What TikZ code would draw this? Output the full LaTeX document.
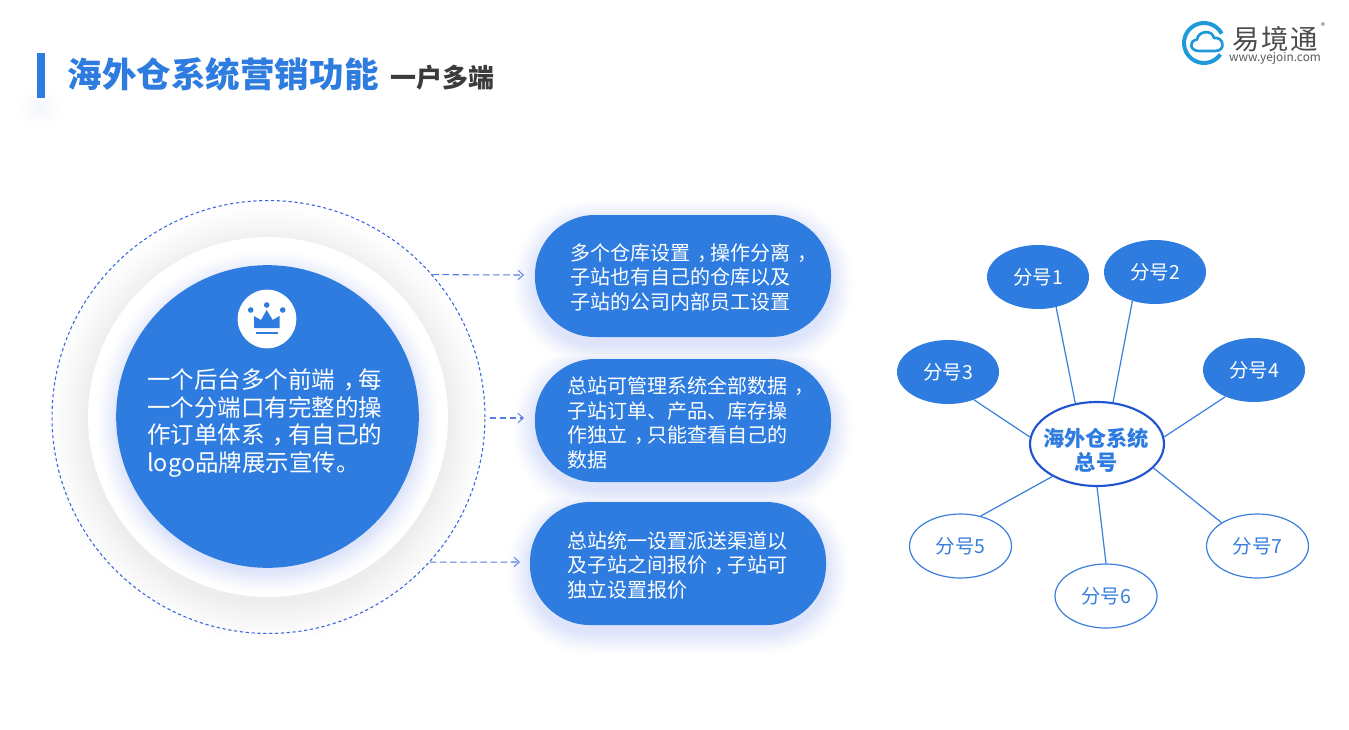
\documentclass[tikz,border=0pt]{standalone}
\usepackage{fontspec}
\setmainfont{Noto Sans CJK SC}
\usetikzlibrary{shapes.geometric,arrows.meta}
\definecolor{mainblue}{HTML}{2E7CDF}
\definecolor{linkblue}{HTML}{3A7FDC}
\definecolor{dashblue}{HTML}{3A66DD}
\definecolor{hubblue}{HTML}{1F55D0}
\definecolor{darktxt}{HTML}{3B3B3B}
\definecolor{logoblue}{HTML}{1E9AD8}
\definecolor{haloblue}{HTML}{DCE3F9}
\definecolor{haloalt}{HTML}{F4F6FD}
\definecolor{halogray}{HTML}{ECECEC}
\newcommand{\pxfont}[2]{\fontsize{#1}{#2}\selectfont}
\newcommand{\cm}{\kern0.35em，\kern-0.35em}
\tikzset{
  x=0.75pt,y=-0.75pt,
  pillbox/.style={fill=mainblue,rounded corners=45pt,minimum width=222pt,inner sep=0pt},
  pilltext/.style={anchor=west,align=left,text=white,inner sep=0pt,font=\pxfont{15}{18.35}},
  sat/.style={ellipse,minimum width=76.5pt,minimum height=48pt,inner sep=0pt,font=\pxfont{14.6}{18}},
  satfull/.style={sat,fill=mainblue,text=white},
  satopen/.style={sat,draw=linkblue,line width=0.9pt,fill=white,text=linkblue},
  spoke/.style={draw=linkblue,line width=0.9pt},
  dasharrow/.style={draw=dashblue!85!white,line width=0.8pt,dash pattern=on 5pt off 2.6pt,-{Straight Barb[length=4pt,width=7pt,line width=0.7pt]}},
}
\begin{document}
\begin{tikzpicture}
\useasboundingbox (0,0) rectangle (1349,729);
\fill[white] (0,0) rectangle (1349,729);
% title glow and bar
\foreach \k in {20,19,...,1}{
  \pgfmathsetmacro{\p}{100*(1-\k/20)^1.5}
  \fill[haloalt!\p!white] (40,108) circle[radius={(\k*1.3)*0.75pt}];}
\fill[mainblue] (37,53) rectangle (45,98);
\node[anchor=west,inner sep=0pt,text=mainblue,font=\pxfont{25.9}{30}\bfseries] (title) at (67.5,74) {海外仓系统营销功能};
\node[anchor=west,inner sep=0pt,text=darktxt,font=\pxfont{19.5}{24}\bfseries] (subtitle) at (390,78) {一户多端};
% logo
\draw[logoblue,line width=3pt] (1204,43) ++(-28:20) arc[start angle=28,end angle=325,radius=15pt];
\draw[logoblue,line width=2pt,line join=round] (1199,51) .. controls (1190,51) and (1188,41) .. (1197,39.5)
  .. controls (1198,31) and (1212,29) .. (1214,38) .. controls (1223,36) and (1227,51) .. (1215,51) -- cycle;
\node[inner sep=0pt,text=black!70,font=\pxfont{20.5}{24}] (logocn) at (1275,39) {易\kern1pt 境\kern1pt 通};
\node[inner sep=0pt,text=black!65,font=\pxfont{8.9}{10}] (logourl) at (1275,58) {www.yejoin.com};
\node[inner sep=0pt,text=black!60,font=\pxfont{6.5}{8}] (logoreg) at (1323,26) {®};
% left circles: grey halo under the white disc
\foreach \k in {44,43,...,1}{
  \pgfmathsetmacro{\p}{100*(1-\k/44)^1.3}
  \fill[halogray!\p!white] (268,423) circle[radius={(178+\k)*0.75pt}];}
\node[circle,draw=dashblue,line width=0.8pt,dash pattern=on 2.4pt off 2pt,minimum size=324.7pt,inner sep=0pt] (ring) at (268.5,417) {};
\node[circle,fill=white,minimum size=270pt,inner sep=0pt] (disc) at (268,417) {};
\foreach \k in {24,23,...,1}{
  \pgfmathsetmacro{\p}{100*(1-\k/24)^1.3}
  \fill[haloblue!\p!white] (268,422) circle[radius={(149+\k)*0.75pt}];}
\node[circle,fill=mainblue,minimum size=227pt,inner sep=0pt] (core) at (267.5,416.5) {};
\node[circle,fill=white,minimum size=44pt,inner sep=0pt] (badge) at (267,319) {};
\fill[mainblue] (254,316) -- (261,320) -- (266.7,310) -- (272.7,320) -- (279.5,316) -- (279.5,328) -- (254,328) -- cycle;
\fill[mainblue] (250.7,310) circle[radius=2.1pt] (266.7,305) circle[radius=2.1pt] (282.7,310) circle[radius=2.1pt];
\fill[mainblue] (256,331.5) rectangle (278,334);
\node[anchor=west,align=left,inner sep=0pt,text=white,font=\pxfont{17.6}{20.85}] (coretext) at (147,423)
  {一个后台多个前端\cm 每\\一个分端口有完整的操\\作订单体系\cm 有自己的\\logo品牌展示宣传。};
% pill halos
\foreach \k in {24,23,...,1}{
  \pgfmathsetmacro{\p}{100*(1-\k/24)^1.3}
  \pgfmathsetmacro{\rr}{(60+\k)*0.75}
  \fill[haloblue!\p!white,rounded corners=\rr pt] (535-\k,215+7-\k) rectangle (831+\k,337+7+\k);
  \fill[haloblue!\p!white,rounded corners=\rr pt] (535-\k,359+7-\k) rectangle (831+\k,482+7+\k);
  \fill[haloblue!\p!white,rounded corners=\rr pt] (530-\k,502+7-\k) rectangle (826+\k,625+7+\k);
}
% pills
\node[pillbox,minimum height=91.5pt] (p1) at (683,276) {};
\node[pillbox,minimum height=92.25pt] (p2) at (683,420.5) {};
\node[pillbox,minimum height=92.25pt] (p3) at (678,563.5) {};
\node[pilltext] (t1) at (570.5,277) {多个仓库设置\cm 操作分离\cm\\子站也有自己的仓库以及\\子站的公司内部员工设置};
\node[pilltext] (t2) at (567.5,423) {总站可管理系统全部数据\cm\\子站订单、产品、库存操\\作独立\cm 只能查看自己的\\数据};
\node[pilltext] (t3) at (567.5,565) {总站统一设置派送渠道以\\及子站之间报价\cm 子站可\\独立设置报价};
% dashed arrows
\coordinate (e1) at (524,275);
\coordinate (e2) at (524,418);
\coordinate (e3) at (520,562);
\draw[dasharrow] (ring.41) -- (e1);
\draw[dasharrow] ([xshift=3pt,yshift=-0.75pt]ring.0) -- (e2);
\draw[dasharrow] (ring.-42) -- (e3);
% hub and satellites
\node[ellipse,draw=hubblue,line width=1.6pt,fill=white,minimum width=100.5pt,minimum height=63pt,inner sep=0pt] (hub) at (1097,444) {};
\node[align=center,inner sep=0pt,text=mainblue,font=\pxfont{15.9}{18}\bfseries] (hubtext) at (1096,450) {海外仓系统\\总号};
\node[satfull] (s1) at (1038,277) {分号1};
\node[satfull] (s2) at (1155,272) {分号2};
\node[satfull] (s3) at (948,372) {分号3};
\node[satfull] (s4) at (1254,370) {分号4};
\node[satopen] (s5) at (960.5,546) {分号5};
\node[satopen] (s6) at (1106,596) {分号6};
\node[satopen] (s7) at (1257.5,546) {分号7};
\draw[spoke] (s1.-59) -- (hub.118);
\draw[spoke] (s2.-128) -- (hub.69);
\draw[spoke] (s3.-47) -- (hub.174);
\draw[spoke] (s4.-137) -- (hub.6);
\draw[spoke] (s5.56) -- (hub.-144);
\draw[spoke] (s6.90) -- (hub.-90);
\draw[spoke] (s7.147) -- (hub.-23);
\end{tikzpicture}
\end{document}
